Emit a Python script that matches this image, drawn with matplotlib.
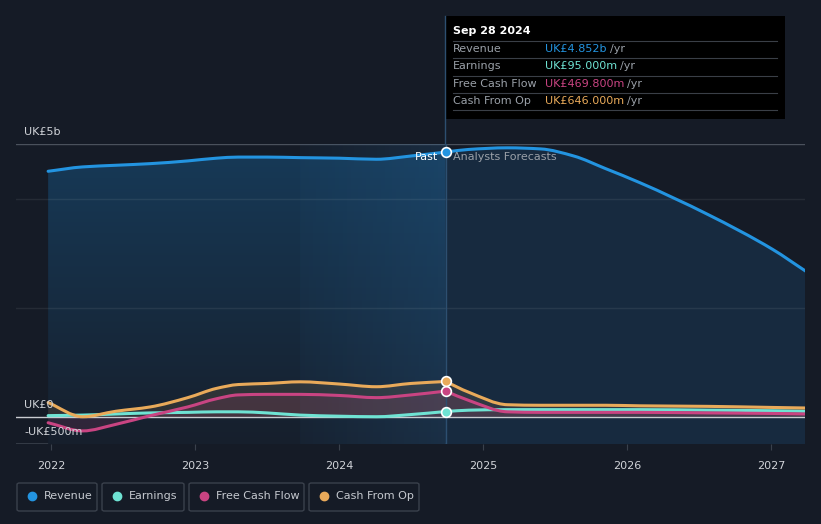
import numpy as np
import matplotlib.pyplot as plt
from matplotlib.colors import LinearSegmentedColormap
from matplotlib.patches import FancyBboxPatch, PathPatch, Rectangle
from matplotlib.path import Path

# values in UK£ billions, x in decimal years
past_x = [2021.98, 2022.22, 2022.45, 2022.69, 2022.95, 2023.15, 2023.3, 2023.5, 2023.73, 2024.0, 2024.26, 2024.5, 2024.74]
past_revenue = [4.50, 4.58, 4.61, 4.64, 4.69, 4.74, 4.76, 4.76, 4.75, 4.74, 4.72, 4.78, 4.852]
past_earnings = [0.02, 0.03, 0.05, 0.07, 0.08, 0.09, 0.09, 0.07, 0.03, 0.01, 0.00, 0.04, 0.095]
past_fcf = [-0.11, -0.26, -0.14, 0.02, 0.18, 0.33, 0.40, 0.41, 0.41, 0.39, 0.35, 0.40, 0.4698]
past_cfo = [0.26, 0.00, 0.10, 0.18, 0.35, 0.52, 0.59, 0.61, 0.64, 0.60, 0.55, 0.61, 0.646]

fc_x = [2024.74, 2024.9, 2025.17, 2025.4, 2025.63, 2025.85, 2026.09, 2026.56, 2027.01, 2027.24]
fc_revenue = [4.852, 4.90, 4.93, 4.91, 4.78, 4.55, 4.29, 3.71, 3.07, 2.67]
fc_earnings = [0.095, 0.12, 0.13, 0.13, 0.13, 0.13, 0.13, 0.12, 0.11, 0.10]
fc_fcf = [0.4698, 0.30, 0.09, 0.08, 0.08, 0.08, 0.08, 0.07, 0.06, 0.05]
fc_cfo = [0.646, 0.45, 0.22, 0.21, 0.21, 0.21, 0.20, 0.19, 0.17, 0.16]

year_ticks = [2022, 2023, 2024, 2025, 2026, 2027]
series_names = ["Revenue", "Earnings", "Free Cash Flow", "Cash From Op"]
series_colors = ["#2394e0", "#6fe3d3", "#c94482", "#e9aa5a"]
tooltip_values = ["UK£4.852b", "UK£95.000m", "UK£469.800m", "UK£646.000m"]

BG = "#151b26"
W, H = 821, 524


def curve_path(xs, ys, base=None):
    # monotone cubic bezier through the given points
    x = np.asarray(xs, float)
    y = np.asarray(ys, float)
    h = np.diff(x)
    d = np.diff(y) / h
    m = np.zeros_like(y)
    m[0], m[-1] = d[0], d[-1]
    for i in range(1, len(y) - 1):
        if d[i - 1] * d[i] <= 0:
            m[i] = 0
        else:
            w1 = 2 * h[i] + h[i - 1]
            w2 = h[i] + 2 * h[i - 1]
            m[i] = (w1 + w2) / (w1 / d[i - 1] + w2 / d[i])
    verts = [(x[0], y[0])]
    codes = [Path.MOVETO]
    for i in range(len(x) - 1):
        verts += [(x[i] + h[i] / 3, y[i] + m[i] * h[i] / 3),
                  (x[i + 1] - h[i] / 3, y[i + 1] - m[i + 1] * h[i] / 3),
                  (x[i + 1], y[i + 1])]
        codes += [Path.CURVE4] * 3
    if base is not None:
        verts += [(x[-1], base), (x[0], base), (x[0], y[0])]
        codes += [Path.LINETO, Path.LINETO, Path.CLOSEPOLY]
    return Path(verts, codes)


fig = plt.figure(figsize=(W / 100, H / 100), dpi=100, facecolor=BG)
ax = fig.add_axes([16 / W, 1 - 444 / H, (805 - 16) / W, 300 / H])
ax.set_facecolor(BG)
ax.set_xlim(2022 - 35 / 144, 2022 + (805 - 51) / 144)
ax.set_ylim(-0.5, 5.0)
for s in ax.spines.values():
    s.set_visible(False)

# grid lines
ax.axhline(5.0, color="#4a515c", lw=1, zorder=1)
for g in [4.0, 2.0]:
    ax.axhline(g, color="white", alpha=0.07, lw=1, zorder=3.2)
ax.axhline(-0.5, color="#3a414c", lw=1.2, zorder=1)

now = past_x[-1]

# past shading under revenue (vertical gradient)
grad = np.linspace(0, 1, 256).reshape(-1, 1)
cmap = LinearSegmentedColormap.from_list("g", ["#161f2c", "#173a58"])
im = ax.imshow(grad, extent=[past_x[0], now, -0.5, 5.0], origin="lower",
               aspect="auto", cmap=cmap, zorder=2)
clip = PathPatch(curve_path(past_x, past_revenue, base=-0.5), transform=ax.transData,
                 fc="none", ec="none")
ax.add_patch(clip)
im.set_clip_path(clip)

# highlighted last-year band (horizontal gradient)
hgrad = np.linspace(0, 1, 256).reshape(1, -1)
band_cmap = LinearSegmentedColormap.from_list(
    "b", [(0.17, 0.45, 0.68, 0.05), (0.17, 0.45, 0.68, 0.2)])
ax.imshow(hgrad, extent=[2023.73, now, -0.5, 5.0], aspect="auto",
          cmap=band_cmap, zorder=2.5)

# forecast fill
ax.add_patch(PathPatch(curve_path(fc_x, fc_revenue, base=-0.5), fc="#172a3f",
                       ec="none", zorder=2))

# lower series fills
all_x = past_x + fc_x[1:]
ax.add_patch(PathPatch(curve_path(all_x, past_cfo + fc_cfo[1:], base=0),
                       fc="#e9aa5a", alpha=0.12, ec="none", zorder=3))
ax.add_patch(PathPatch(curve_path(all_x, past_fcf + fc_fcf[1:], base=0),
                       fc="#c94482", alpha=0.14, ec="none", zorder=3))

ax.axhline(0, color="#c9ccd1", lw=1, zorder=3.5)

past_series = [past_revenue, past_earnings, past_fcf, past_cfo]
fc_series = [fc_revenue, fc_earnings, fc_fcf, fc_cfo]
for ps, fs, c in zip(past_series, fc_series, series_colors):
    ax.add_patch(PathPatch(curve_path(past_x, ps), fc="none", ec=c, lw=2.2,
                           capstyle="round", zorder=4))
    ax.add_patch(PathPatch(curve_path(fc_x, fs), fc="none", ec=c, lw=2.2,
                           capstyle="round", zorder=4))
    ax.plot([now], [ps[-1]], "o", ms=7, mfc=c, mec="white", mew=1.2, zorder=6)

# now line
ax.plot([now, now], [-0.5, 5.0], color="#2d4f70", lw=1, zorder=3.6)
fig.add_artist(plt.Line2D([445 / W, 445 / W], [1 - 144 / H, 1 - 16 / H],
                          color="#2d4f70", lw=1))

ax.text(now - 0.05, 4.76, "Past", color="white", fontsize=8, ha="right",
        va="center", zorder=7)
ax.text(now + 0.05, 4.76, "Analysts Forecasts", color="#9aa0a8", fontsize=8,
        ha="left", va="center", zorder=7)

ax.set_xticks(year_ticks)
ax.set_xticklabels([str(y) for y in year_ticks])
ax.tick_params(axis="x", colors="#3a414c", labelcolor="#d0d3d8", labelsize=8,
               length=4, pad=8)
ax.set_yticks([])

fig.text(24 / W, 1 - 132 / H, "UK£5b", color="#d0d3d8", fontsize=8, va="center")
fig.text(24 / W, 1 - 405 / H, "UK£0", color="#d0d3d8", fontsize=8, va="center")
fig.text(24 / W, 1 - 432 / H, "-UK£500m", color="#d0d3d8", fontsize=8, va="center")

# tooltip
fig.add_artist(Rectangle((446 / W, 1 - 119 / H), (785 - 446) / W, (119 - 16) / H,
                         facecolor="#000000", edgecolor="none"))
fig.text(453 / W, 1 - 31 / H, "Sep 28 2024", color="white", fontsize=8,
         va="center", fontweight="bold")
row_y = [49, 66, 84, 101]
for i, (name, c, v) in enumerate(zip(series_names, series_colors, tooltip_values)):
    yy = 1 - row_y[i] / H
    fig.add_artist(plt.Line2D([453 / W, 777 / W], [1 - (row_y[i] - 8.5) / H] * 2,
                              color="#3a3f47", lw=0.8))
    fig.text(453 / W, yy, name, color="#9aa0a8", fontsize=8, va="center")
    t = fig.text(545 / W, yy, v, color=c, fontsize=8, va="center")
    fig.canvas.draw()
    bb = t.get_window_extent()
    fig.text((bb.x1 + 3) / W, yy, "/yr", color="#9aa0a8", fontsize=8, va="center")
fig.add_artist(plt.Line2D([453 / W, 777 / W], [1 - 110 / H] * 2,
                          color="#3a3f47", lw=0.8))

# legend boxes
boxes = [(17, 97), (102, 184), (189, 304), (309, 419)]
for (bx0, bx1), name, c in zip(boxes, series_names, series_colors):
    fig.add_artist(FancyBboxPatch((bx0 / W, 1 - 511 / H), (bx1 - bx0) / W, 28 / H,
                                  boxstyle="round,pad=0,rounding_size=0.003",
                                  facecolor="none", edgecolor="#3a414c", lw=1))
    fig.add_artist(plt.Line2D([(bx0 + 15) / W], [1 - 496 / H], marker="o", ms=6,
                              color=c, lw=0))
    fig.text((bx0 + 27) / W, 1 - 496 / H, name, color="#c5c9cf", fontsize=8,
             va="center")

fig.savefig("out.png", dpi=100, facecolor=BG)
